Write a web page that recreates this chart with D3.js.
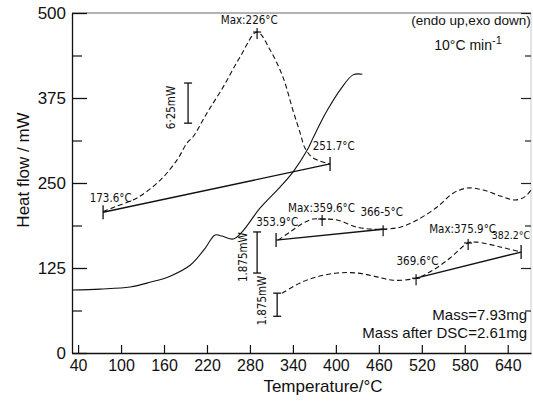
<!DOCTYPE html>
<html><head><meta charset="utf-8">
<script src="https://cdn.jsdelivr.net/npm/d3@7"></script>
<style>
body{margin:0;background:#fff;}
svg{display:block;}
.ann{font-family:"DejaVu Sans Condensed","Liberation Sans Narrow",sans-serif;font-size:11.5px;fill:#111;}
.big{font-family:"Liberation Sans",Arial,sans-serif;fill:#111;}
</style>
</head><body>
<svg id="c" width="533" height="403"></svg>
<script>
// ---- data (x: temperature axis units, y: heat flow axis units) ----
const xTicks = [40,100,160,220,280,340,400,460,520,580,640];
const yTicks = [0,125,250,375,500];
const yMinorTicks = [62.5,187.5,312.5,437.5];

const solidCurve = [[31.6,92.6],[70.7,94],[112.6,97],[140.6,104],[168.5,113],[196.4,129],[217.4,154],[231.3,173.5],[241,172],[256.5,167.6],[269,178],[294,213],[322,244],[340,266],[360,298.5],[368,316],[382,345.6],[388,357],[406,387],[424,409],[437,410]];

const dashed1 = [[74.9,208],[91.7,215],[122.4,228],[154.5,254],[178.3,284],[192.2,309],[200.6,318],[220,353],[242.5,391],[266,435],[290,472],[308,446],[326,406],[340,357],[350,324],[357,301],[368,287],[392,278]];
const base1 = [[74.9,207],[391.9,278]];

const dashed2 = [[319.3,166],[336,178],[354.2,191],[368,197],[380.8,197],[401.7,195.6],[429.7,185],[452,182],[466,182],[489.7,185],[513.5,195.6],[541.4,214.7],[563.7,235],[583.3,242.6],[605.6,239.7],[629.4,231],[650.3,225],[664.3,230],[672.7,240]];
const base2 = [[316.5,166],[466,182]];

const dashed3 = [[325,88],[350,103],[373.8,112],[401.7,117.6],[429.7,117.6],[457.6,112],[480,107],[512,110],[535.8,122],[559.5,139.7],[584.7,161.8],[597.3,163],[629.4,156],[658.7,148.5]];
const base3 = [[512,110],[658.7,148.5]];

// end markers "|" and max markers "+"
const endMarks = [[74.9,207],[391.9,278],[316.5,166],[658.7,148.5]];
const plusMarks = [[290,472],[380.8,197],[466,182],[512,110],[584.7,161.8]];

// scale bars [x, yTop, yBottom]
const scaleBars = [[193.6,397,338],[290,178,117.6],[318,88,54]];
const scaleBarLabels = ["6·25mW","1.875mW","1.875mW"];
const scaleBarLabelPos = [[175.5,361],[276,141],[303,77]];

const annTexts = ["Max:226°C","173.6°C","251.7°C","353.9°C","Max:359.6°C","366-5°C","369.6°C","Max:375.9°C","382.2°C"];
const annPos = [[279,484],[85.5,222],[397,298],[318,187],[380,208],[464,202],[514,130],[577,177],[644.5,168]];

// ---- drawing ----
const svg = d3.select("#c");
const x = d3.scaleLinear().domain([31.5,672.5]).range([72,531]);
const y = d3.scaleLinear().domain([0,500]).range([353,13]);

// frame
svg.append("line").attr("x1",72).attr("x2",531).attr("y1",y(500)).attr("y2",y(500)).attr("stroke","#666").attr("stroke-width",1);
svg.append("line").attr("x1",531).attr("x2",531).attr("y1",y(500)).attr("y2",y(0)).attr("stroke","#bbb").attr("stroke-width",0.8);

// bottom axis
const gx = svg.append("g").attr("transform",`translate(0,${y(0)})`)
  .call(d3.axisBottom(x).tickValues(xTicks).tickSizeInner(-8).tickSizeOuter(0).tickPadding(7));
gx.select(".domain").attr("stroke","#111").attr("stroke-width",1.3);
gx.selectAll(".tick line").attr("stroke","#111").attr("stroke-width",1.2);
gx.selectAll("text").attr("class","big").style("font-size","16px");

// left axis
const gy = svg.append("g").attr("transform",`translate(72,0)`)
  .call(d3.axisLeft(y).tickValues(yTicks).tickSizeInner(-15).tickSizeOuter(0).tickPadding(6));
gy.select(".domain").attr("stroke","#111").attr("stroke-width",1.3);
gy.selectAll(".tick line").attr("stroke","#111").attr("stroke-width",1.3);
gy.selectAll("text").attr("class","big").style("font-size","17px");
const gyMinor = svg.append("g").attr("transform",`translate(72,0)`)
  .call(d3.axisLeft(y).tickValues(yMinorTicks).tickSizeInner(-10).tickSizeOuter(0).tickFormat(""));
gyMinor.select(".domain").remove();
gyMinor.selectAll(".tick line").attr("stroke","#111").attr("stroke-width",1.2);

// right axis ticks (inward)
const gr = svg.append("g").attr("transform",`translate(531,0)`)
  .call(d3.axisRight(y).tickValues(yTicks.slice(1)).tickSizeInner(-10).tickSizeOuter(0).tickFormat(""));
gr.select(".domain").remove();
gr.selectAll(".tick line").attr("stroke","#222").attr("stroke-width",1.2);
const gr2 = svg.append("g").attr("transform",`translate(531,0)`)
  .call(d3.axisRight(y).tickValues(yMinorTicks).tickSizeInner(-6).tickSizeOuter(0).tickFormat(""));
gr2.select(".domain").remove();
gr2.selectAll(".tick line").attr("stroke","#222").attr("stroke-width",1.2);

// axis titles
svg.append("text").attr("class","big").attr("x",323).attr("y",392).attr("text-anchor","middle").style("font-size","17px").text("Temperature/°C");
svg.append("text").attr("class","big").attr("transform","translate(29,170) rotate(-90)").attr("text-anchor","middle").style("font-size","17px").text("Heat flow / mW");

// curves
const line = d3.line().x(d=>x(d[0])).y(d=>y(d[1])).curve(d3.curveCatmullRom.alpha(0.5));
const straight = d3.line().x(d=>x(d[0])).y(d=>y(d[1]));
svg.append("path").attr("d",line(solidCurve)).attr("fill","none").attr("stroke","#111").attr("stroke-width",1.1);
[dashed1,dashed2,dashed3].forEach(d=>{
  svg.append("path").attr("d",line(d)).attr("fill","none").attr("stroke","#111").attr("stroke-width",1.1).attr("stroke-dasharray","5,3");
});
[base1,base2,base3].forEach(d=>{
  svg.append("path").attr("d",straight(d)).attr("fill","none").attr("stroke","#111").attr("stroke-width",1.3);
});

// markers
endMarks.forEach(d=>{
  svg.append("line").attr("x1",x(d[0])).attr("x2",x(d[0])).attr("y1",y(d[1])-7).attr("y2",y(d[1])+7).attr("stroke","#111").attr("stroke-width",1.3);
});
plusMarks.forEach(d=>{
  svg.append("line").attr("x1",x(d[0])).attr("x2",x(d[0])).attr("y1",y(d[1])-4).attr("y2",y(d[1])+7).attr("stroke","#111").attr("stroke-width",1.2);
  svg.append("line").attr("x1",x(d[0])-4).attr("x2",x(d[0])+4).attr("y1",y(d[1])).attr("y2",y(d[1])).attr("stroke","#111").attr("stroke-width",1.2);
});

// scale bars
scaleBars.forEach(d=>{
  const cx = x(d[0]);
  svg.append("line").attr("x1",cx).attr("x2",cx).attr("y1",y(d[1])).attr("y2",y(d[2])).attr("stroke","#111").attr("stroke-width",1.3);
  [d[1],d[2]].forEach(v=>svg.append("line").attr("x1",cx-4).attr("x2",cx+4).attr("y1",y(v)).attr("y2",y(v)).attr("stroke","#111").attr("stroke-width",1.3));
});
scaleBarLabels.forEach((t,i)=>{
  const p = scaleBarLabelPos[i];
  svg.append("text").attr("class","ann").attr("transform",`translate(${x(p[0])},${y(p[1])}) rotate(-90)`).attr("text-anchor","middle").text(t);
});

// annotations
annTexts.forEach((t,i)=>{
  const p = annPos[i];
  svg.append("text").attr("class","ann").attr("x",x(p[0])).attr("y",y(p[1])).attr("text-anchor","middle")
    .style("font-size", i===annTexts.length-1 ? "10.5px" : null).text(t);
});

// header / info text
svg.append("text").attr("class","big").attr("x",471).attr("y",25).attr("text-anchor","middle").style("font-size","13.5px").text("(endo up,exo down)");
const t2 = svg.append("text").attr("class","big").attr("x",468).attr("y",50).attr("text-anchor","middle").style("font-size","14px");
t2.append("tspan").text("10°C min");
t2.append("tspan").attr("dy",-6).style("font-size","11px").text("-1");
svg.append("text").attr("class","big").attr("x",527).attr("y",320).attr("text-anchor","end").style("font-size","15px").text("Mass=7.93mg");
svg.append("text").attr("class","big").attr("x",527).attr("y",338).attr("text-anchor","end").style("font-size","15px").text("Mass after DSC=2.61mg");
</script>
</body></html>
